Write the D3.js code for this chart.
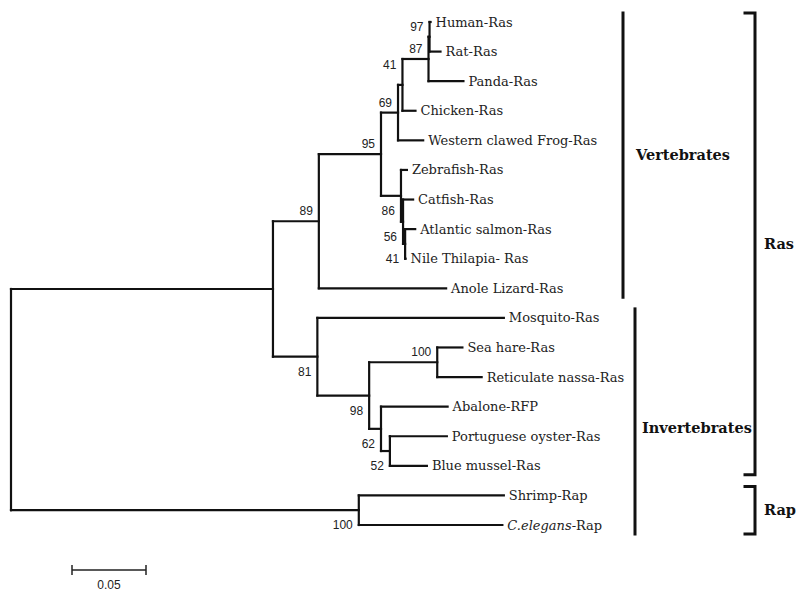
<!DOCTYPE html>
<html>
<head>
<meta charset="utf-8">
<script src="https://cdn.jsdelivr.net/npm/d3@7"></script>
<style>
  body { margin: 0; background: #fff; }
  .branch { stroke: #111; stroke-width: 2.2; fill: none; stroke-linecap: square; }
  .leaf { font-family: "DejaVu Serif", serif; font-size: 13px; fill: #222; }
  .boot { font-family: "Liberation Sans", Arial, sans-serif; font-size: 12px; fill: #222; }
  .group { font-family: "DejaVu Serif", serif; font-weight: bold; font-size: 14.5px; fill: #111; }
</style>
</head>
<body>
<svg id="tree" width="799" height="591"></svg>
<script>
// tree in preorder: node, parent, branch length, bootstrap
var nodeNames = ["root", "Ras", "n89", "n95", "n69", "n41a", "n87", "n97",
  "Human-Ras", "Rat-Ras", "Panda-Ras", "Chicken-Ras", "Western clawed Frog-Ras",
  "n86", "Zebrafish-Ras", "n56", "Catfish-Ras", "n41b", "Atlantic salmon-Ras", "Nile Thilapia- Ras",
  "Anole Lizard-Ras", "n81", "Mosquito-Ras", "n98", "n100a", "Sea hare-Ras", "Reticulate nassa-Ras",
  "n62", "Abalone-RFP", "n52", "Portuguese oyster-Ras", "Blue mussel-Ras",
  "Rap", "Shrimp-Rap", "C.elegans-Rap"];
var parentNames = [null, "root", "Ras", "n89", "n95", "n69", "n41a", "n87",
  "n97", "n97", "n87", "n41a", "n69",
  "n95", "n86", "n86", "n56", "n56", "n41b", "n41b",
  "n89", "Ras", "n81", "n81", "n98", "n100a", "n100a",
  "n98", "n62", "n62", "n52", "n52",
  "root", "Rap", "Rap"];
var branchLengths = [0, 0.177, 0.031, 0.042, 0.0115, 0.003, 0.0176, 0.0007,
  0.0007, 0.0074, 0.0236, 0.0088, 0.017,
  0.0135, 0.004, 0.0014, 0.0068, 0.0014, 0.0068, 0.0003,
  0.086, 0.030, 0.126, 0.035, 0.046, 0.017, 0.030,
  0.008, 0.045, 0.006, 0.0385, 0.025,
  0.235, 0.098, 0.097];
var bootstraps = [null, null, 89, 95, 69, 41, 87, 97,
  null, null, null, null, null,
  86, null, 56, null, 41, null, null,
  null, 81, null, 98, 100, null, null,
  62, null, 52, null, null,
  100, null, null];

// bracket groups: label, first leaf, last leaf
var groupNames = ["Vertebrates", "Invertebrates", "Ras", "Rap"];
var groupFirst = [0, 10, 0, 16];
var groupLast = [9, 17, 15, 17];

var scaleBarValue = 0.05;

var rows = nodeNames.map(function(n, i){
  return { id: n, parent: parentNames[i], len: branchLengths[i], boot: bootstraps[i] };
});

var root = d3.stratify().id(function(d){ return d.id; }).parentId(function(d){ return d.parent; })(rows);

root.eachBefore(function(n){
  n.dist = n.parent ? n.parent.dist + n.data.len : 0;
});
var leaves = root.leaves();

var x = d3.scaleLinear().domain([0, 0.05]).range([11, 85]);
var y = d3.scaleLinear().domain([0, leaves.length - 1]).range([22, 525]);

leaves.forEach(function(l, i){ l.yy = y(i); });
root.eachAfter(function(n){
  if (n.children) n.yy = (n.children[0].yy + n.children[n.children.length - 1].yy) / 2;
});

var svg = d3.select("#tree");
var g = svg.append("g");

// horizontal branches
g.selectAll("line.h")
  .data(root.descendants().filter(function(n){ return n.parent; }))
  .enter().append("line")
  .attr("class", "branch")
  .attr("x1", function(n){ return x(n.parent.dist); })
  .attr("x2", function(n){ return x(n.dist); })
  .attr("y1", function(n){ return n.yy; })
  .attr("y2", function(n){ return n.yy; });

// vertical connectors
g.selectAll("line.v")
  .data(root.descendants().filter(function(n){ return n.children; }))
  .enter().append("line")
  .attr("class", "branch")
  .attr("x1", function(n){ return x(n.dist); })
  .attr("x2", function(n){ return x(n.dist); })
  .attr("y1", function(n){ return n.children[0].yy; })
  .attr("y2", function(n){ return n.children[n.children.length - 1].yy; });

// leaf labels
leaves.forEach(function(l){
  var t = g.append("text")
    .attr("class", "leaf")
    .attr("x", x(l.dist) + 5)
    .attr("y", l.yy)
    .attr("dy", "0.35em");
  if (l.id === "C.elegans-Rap") {
    t.append("tspan").style("font-style", "italic").text("C.elegans");
    t.append("tspan").text("-Rap");
  } else {
    t.text(l.id);
  }
});

// bootstrap values: first child above-left, second child below-left
root.descendants().forEach(function(n){
  if (n.data.boot == null) return;
  var first = n.parent.children[0] === n;
  var yy = first ? n.yy - 6 : n.yy + 19;
  if (n.id === "n41a") yy -= 10; // nudged up in the original to clear 69
  g.append("text")
    .attr("class", "boot")
    .attr("text-anchor", "end")
    .attr("x", x(n.dist) - 6)
    .attr("y", yy)
    .text(n.data.boot);
});

// brackets
var inner = [623, 635];
var innerText = [636, 642];
groupNames.forEach(function(name, i){
  var y1 = y(groupFirst[i]) - 9, y2 = y(groupLast[i]) + 9;
  if (i < 2) {
    var bx = inner[i];
    g.append("line").attr("class", "branch").style("stroke-width", 3)
      .attr("x1", bx).attr("x2", bx).attr("y1", y1).attr("y2", y2);
    g.append("text").attr("class", "group")
      .attr("x", innerText[i]).attr("y", (y1 + y2) / 2 + (i === 1 ? 6 : 0)).attr("dy", "0.35em").text(name);
  } else {
    g.append("path").attr("class", "branch").style("stroke-width", 3)
      .attr("d", "M745," + y1 + "H755V" + y2 + "H745");
    g.append("text").attr("class", "group")
      .attr("x", 764).attr("y", (y1 + y2) / 2).attr("dy", "0.35em").text(name);
  }
});

// scale bar
var bx0 = 72, bw = x(scaleBarValue) - x(0), by = 570;
var bar = svg.append("g").attr("stroke", "#222").attr("stroke-width", 1.5);
bar.append("line").attr("x1", bx0).attr("x2", bx0 + bw).attr("y1", by).attr("y2", by);
bar.append("line").attr("x1", bx0).attr("x2", bx0).attr("y1", by - 5).attr("y2", by + 5);
bar.append("line").attr("x1", bx0 + bw).attr("x2", bx0 + bw).attr("y1", by - 5).attr("y2", by + 5);
svg.append("text").attr("class", "boot").attr("text-anchor", "middle")
  .attr("x", bx0 + bw / 2).attr("y", by + 19).text(scaleBarValue);
</script>
</body>
</html>
